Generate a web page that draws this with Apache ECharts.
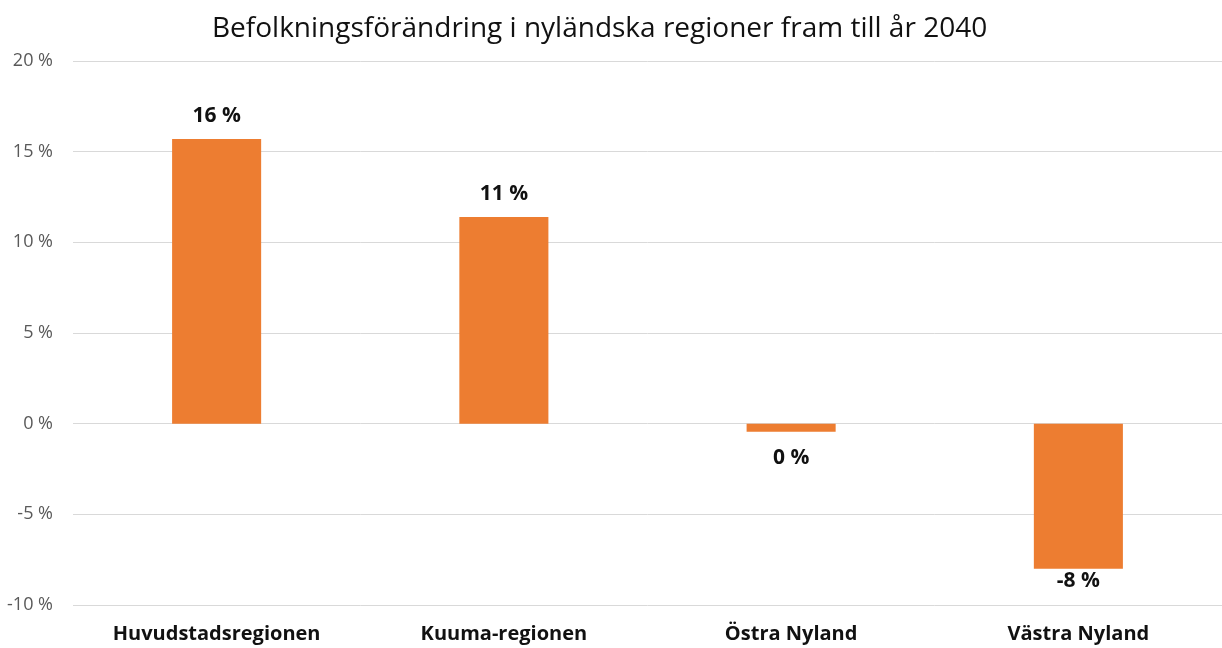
<!DOCTYPE html>
<html lang="sv">

<head>
  <meta charset="UTF-8">
  <title>Befolkningsförändring i nyländska regioner</title>
  <style>
    html, body { margin: 0; padding: 0; background: #fff; }
    #chart { width: 1222px; height: 648px; }
  </style>
</head>

<body>
  <div id="chart"></div>

  <script src="https://cdn.jsdelivr.net/npm/echarts@6/dist/echarts.min.js"></script>
  <script>
    // regioner och förändring i procent
    const regions = ['Huvudstadsregionen', 'Kuuma-regionen', 'Östra Nyland', 'Västra Nyland'];
    const changes = [15.7, 11.4, -0.45, -8.0];
    const yTicks = [-10, -5, 0, 5, 10, 15, 20];

    window.onload = () => {
      let dom = document.getElementById('chart');
      let chart = echarts.init(dom);

      let barData = changes.map((v, i) => ({
        value: v,
        label: v < 0 ? { position: 'bottom', distance: i === 2 ? 16 : 2 } : { position: 'top', distance: 12 }
      }));

      let option = {
        backgroundColor: '#fff',
        title: {
          text: 'Befolkningsförändring i nyländska regioner fram till år 2040',
          left: 207,
          top: 10,
          textStyle: {
            fontFamily: 'Open Sans',
            fontSize: 28,
            fontWeight: 'normal',
            color: '#111'
          }
        },
        grid: {
          left: 73,
          top: 61,
          right: 0,
          bottom: 43
        },
        xAxis: {
          type: 'category',
          data: regions,
          axisLine: { show: false },
          axisTick: { show: false },
          axisLabel: {
            margin: 19,
            fontFamily: 'Open Sans',
            fontSize: 20,
            fontWeight: 'bold',
            color: '#111'
          }
        },
        yAxis: {
          type: 'value',
          min: yTicks[0],
          max: yTicks[yTicks.length - 1],
          interval: 5,
          axisLine: { show: false },
          axisTick: { show: false },
          axisLabel: {
            margin: 20,
            fontFamily: 'Open Sans',
            fontSize: 18,
            color: '#595959',
            formatter: (v) => v + ' %'
          },
          splitLine: {
            lineStyle: { color: '#d9d9d9', width: 1 }
          }
        },
        series: [{
          name: 'Förändring',
          type: 'bar',
          data: barData,
          barWidth: '31%',
          itemStyle: { color: '#ed7d31' },
          label: {
            show: true,
            fontFamily: 'Open Sans',
            fontSize: 21,
            fontWeight: 'bold',
            color: '#111',
            formatter: (p) => String(Math.round(p.value)) + ' %'
          }
        }]
      };

      chart.setOption(option);
    }
  </script>
</body>

</html>
